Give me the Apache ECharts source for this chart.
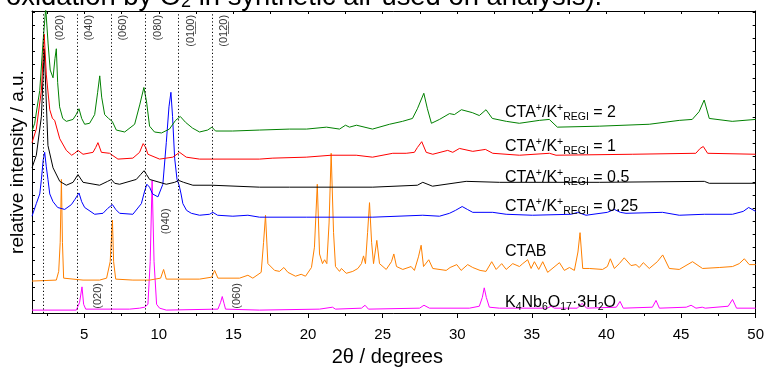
<!DOCTYPE html>
<html><head><meta charset="utf-8">
<script src="https://cdn.jsdelivr.net/npm/echarts@6/dist/echarts.min.js"></script>
<style>html,body{margin:0;padding:0;background:#fff}#c{width:767px;height:372px}</style>
</head><body><div id="c"></div>
<script>
// 2theta (degrees), relative intensity (a.u., stacked offsets)
const ratio2 = [[1.50,188],[1.68,196],[2.02,230],[2.24,280],[2.42,315],[2.58,278],[2.72,251],[2.91,243],[3.04,263],[3.13,273],[3.22,238],[3.35,213],[3.56,201],[3.80,198],[4.25,200],[4.46,205],[4.65,211],[4.83,201],[5.03,195],[5.36,196],[5.70,205],[5.90,228],[6.04,245],[6.17,223],[6.37,205],[6.63,201],[6.88,198],[7.15,189],[7.71,187],[8.38,195],[8.72,215],[9.00,233],[9.18,218],[9.38,193],[9.71,187],[10.18,186],[10.71,190],[11.12,199],[11.44,203],[11.79,197],[12.26,191],[12.73,187],[13.27,189],[13.56,192],[13.80,188],[14.94,188],[16.75,189],[18.76,190],[19.90,190],[21.24,192],[22.11,190],[22.51,194],[22.78,192],[23.25,194],[24.32,190],[25.46,195],[26.33,198],[27.00,201],[27.33,211],[27.76,227],[28.00,211],[28.27,196],[28.81,200],[29.48,206],[29.81,205],[30.28,210],[31.01,207],[31.48,204],[31.93,210],[32.35,201],[33.29,198],[34.16,196],[35.50,199],[36.17,200],[36.71,192],[39.52,193],[42.87,195],[44.88,199],[45.75,200],[46.21,208],[46.55,220],[46.89,201],[48.43,198],[50.00,200]];
const ratio1 = [[1.50,176],[1.79,190],[2.13,230],[2.32,288],[2.46,246],[2.69,210],[2.87,201],[3.02,199],[3.36,180],[3.80,168],[4.16,163],[4.36,165],[4.58,168],[4.92,164],[5.59,166],[5.77,171],[5.92,176],[6.15,166],[6.70,165],[7.26,159],[8.26,160],[8.71,166],[8.95,175],[9.12,171],[9.27,164],[10.05,159],[10.94,161],[11.39,166],[11.84,161],[12.73,159],[16.75,159],[17.64,160],[19.88,161],[21.55,163],[23.23,163],[24.32,161],[25.68,165],[26.58,165],[27.13,166],[27.33,171],[27.62,177],[27.92,166],[28.36,164],[29.36,168],[29.70,166],[30.15,170],[31.04,167],[31.89,169],[32.38,165],[34.17,163],[36.18,165],[36.62,163],[41.73,164],[45.99,165],[46.28,170],[46.49,172],[46.78,165],[50.00,164]];
const ratio05 = [[1.50,150],[1.79,163],[2.13,203],[2.32,273],[2.57,173],[2.91,150],[3.36,136],[3.80,132],[4.25,135],[4.58,143],[4.92,135],[6.03,132],[6.57,136],[6.82,138],[7.04,134],[7.37,133],[8.49,138],[8.78,143],[9.01,147],[9.18,143],[9.38,138],[10.50,133],[11.06,135],[11.33,137],[11.66,135],[12.28,132],[13.56,132],[16.75,130],[18.76,130],[24.34,130],[27.33,132],[27.69,135],[28.34,131],[30.60,136],[32.83,135],[39.52,135],[46.56,136],[46.89,134],[50.00,134]];
const ratio025 = [[1.50,100],[1.79,113],[2.02,123],[2.13,138],[2.25,158],[2.35,166],[2.46,151],[2.57,138],[2.69,123],[2.91,115],[3.22,109],[3.69,107],[4.14,112],[4.36,117],[4.65,124],[4.83,115],[5.03,109],[5.32,106],[5.70,102],[6.26,103],[6.57,108],[6.89,112],[7.11,107],[7.37,103],[8.26,102],[8.83,113],[9.05,126],[9.20,133],[9.38,130],[9.58,123],[9.94,120],[10.27,133],[10.50,176],[10.68,213],[10.81,228],[10.92,203],[11.06,160],[11.22,138],[11.36,132],[11.49,123],[11.61,113],[11.86,106],[12.18,103],[12.73,101],[13.40,102],[13.62,104],[13.94,101],[14.96,100],[15.97,101],[16.75,99],[19.88,99],[24.34,99],[27.69,101],[28.81,100],[29.48,103],[29.88,106],[30.33,110],[30.68,107],[31.04,104],[32.38,104],[33.28,102],[35.04,101],[37.65,102],[38.07,104],[38.63,101],[40.06,104],[40.53,107],[40.93,104],[41.31,103],[43.76,104],[44.88,101],[46.56,102],[48.45,102],[49.17,105],[49.53,109],[50.00,105]];
const ctab = [[1.50,33],[3.13,34],[3.29,43],[3.39,73],[3.47,138],[3.54,73],[3.62,36],[4.92,34],[6.03,34],[6.50,36],[6.74,53],[6.89,96],[6.97,53],[7.11,35],[8.26,34],[9.38,34],[10.12,36],[10.32,45],[10.50,35],[12.73,35],[13.54,37],[13.74,44],[13.96,36],[15.41,36],[15.97,39],[16.30,36],[16.86,42],[17.02,73],[17.15,101],[17.31,51],[17.76,44],[18.09,43],[18.38,47],[18.65,42],[19.16,38],[19.54,40],[19.83,38],[20.23,47],[20.43,68],[20.62,133],[20.77,61],[20.97,51],[21.11,55],[21.26,51],[21.41,93],[21.55,165],[21.71,83],[21.84,48],[22.11,43],[22.24,46],[22.56,41],[23.00,43],[23.34,46],[23.58,51],[23.72,59],[23.85,51],[23.99,83],[24.12,114],[24.26,73],[24.39,51],[24.61,75],[24.79,51],[25.24,45],[25.59,53],[25.75,61],[25.93,48],[26.35,45],[26.91,48],[27.13,44],[27.40,58],[27.58,70],[27.74,48],[28.09,55],[28.36,46],[29.26,44],[29.52,47],[29.97,50],[30.26,44],[30.70,50],[31.04,47],[31.53,44],[31.93,43],[32.31,53],[32.61,45],[32.98,51],[33.28,45],[33.72,51],[34.17,48],[34.39,51],[34.72,55],[34.95,46],[35.17,53],[35.46,45],[35.73,53],[36.06,42],[36.85,52],[37.18,44],[37.52,47],[37.85,44],[38.09,63],[38.23,83],[38.41,46],[38.85,46],[39.74,45],[40.06,48],[40.26,56],[40.53,46],[40.86,51],[41.19,57],[41.65,49],[41.98,50],[42.20,47],[42.47,52],[42.87,46],[43.41,53],[43.77,60],[44.21,46],[44.88,45],[45.77,53],[46.44,46],[47.56,47],[48.45,48],[48.90,51],[49.24,56],[49.57,50],[50.00,50]];
const knb = [[1.50,3],[4.47,3],[4.69,11],[4.85,27],[4.96,9],[5.10,4],[8.04,4],[8.71,5],[9.05,6],[9.27,9],[9.42,53],[9.55,137],[9.68,53],[9.85,9],[10.05,5],[10.50,3],[13.96,4],[14.14,11],[14.25,17],[14.37,10],[14.47,4],[16.75,3],[20.77,4],[21.64,6],[21.84,4],[23.58,5],[23.82,8],[24.05,4],[27.47,5],[27.77,8],[28.14,5],[30.82,5],[31.48,7],[31.68,16],[31.81,26],[31.95,16],[32.15,6],[32.82,5],[36.04,5],[36.29,7],[36.51,5],[38.05,5],[38.37,10],[38.67,5],[40.66,6],[40.91,12],[41.13,5],[43.08,6],[43.32,13],[43.55,5],[45.35,6],[45.67,8],[46.00,5],[46.42,6],[46.62,5],[48.16,7],[48.45,14],[48.72,5],[50.00,5]];

const refLines = [2.27, 4.53, 6.80, 9.06, 11.33, 13.59];
const refLabels = [[3.36,308,'(020)'],[5.34,308,'(040)'],[7.62,308,'(060)'],[9.91,308,'(080)'],[12.13,308,'(01\u03320\u03320)'],[14.34,308,'(01\u03322\u03320)']];
const knbLabels = [[5.93,31,'(020)'],[10.49,108,'(040)'],[15.24,31,'(060)']];
const xMajor = [5,10,15,20,25,30,35,40,45,50];
const xMinor = [2.5,7.5,12.5,17.5,22.5,27.5,32.5,37.5,42.5,47.5];
const xTop = [2.5,5,7.5,10,12.5,15,17.5,20,22.5,25,27.5,30,32.5,35,37.5,40,42.5,45,47.5,50];

const FF = 'Liberation Sans, Arial, sans-serif';
const chart = echarts.init(document.getElementById('c'));
const lineS = (data, color) => ({type:'line', data, showSymbol:false, symbol:'none', lineStyle:{color, width:1}, itemStyle:{color}, silent:true, xAxisIndex:0, yAxisIndex:0, z:3});
const txt = (y, main) => ({
  type:'text', x:505, y, z:10,
  style:{
    text: main, fill:'#000', fontSize:16, fontFamily:FF, lineHeight:20,
    align:'left', verticalAlign:'middle', textAlign:'left', textVerticalAlign:'middle',
    rich:{
      n:{fontSize:16, fontFamily:FF, lineHeight:20, fill:'#000'},
      p:{fontSize:10.5, fontFamily:FF, verticalAlign:'top', lineHeight:20, fill:'#000'},
      s:{fontSize:10.5, fontFamily:FF, verticalAlign:'bottom', lineHeight:20, fill:'#000'}
    }
  }
});
const regi = v => '{n|CTA}{p|+}{n|/K}{p|+}{s|REGI}{n| = ' + v + '}';

chart.setOption({
  animation:false,
  backgroundColor:'#fff',
  grid:{left:32, right:10, top:11, bottom:49},
  xAxis:[
    {type:'value', min:1.5, max:50, position:'bottom',
     name:'2\u03b8 / degrees', nameLocation:'middle', nameGap:34,
     nameTextStyle:{fontSize:20, fontFamily:FF, color:'#000', padding:[0,13,0,0]},
     axisLine:{show:true, lineStyle:{color:'#000', width:1}},
     axisTick:{show:true, inside:false, length:5, customValues:xMajor, lineStyle:{color:'#000'}},
     axisLabel:{show:true, customValues:xMajor, fontSize:15, fontFamily:FF, color:'#000', margin:14},
     splitLine:{show:false}},
    {type:'value', min:1.5, max:50, position:'bottom',
     axisLine:{show:false},
     axisTick:{show:true, inside:false, length:3, customValues:xMinor, lineStyle:{color:'#000'}},
     axisLabel:{show:false}, splitLine:{show:false}},
    {type:'value', min:1.5, max:50, position:'top',
     axisLine:{show:true, lineStyle:{color:'#000', width:1}},
     axisTick:{show:true, inside:true, length:3, customValues:xTop, lineStyle:{color:'#000'}},
     axisLabel:{show:false}, splitLine:{show:false}}
  ],
  yAxis:[
    {type:'value', min:0, max:312, interval:13.5, position:'left',
     name:'relative intensity / a.u.', nameLocation:'middle', nameGap:5,
     nameTextStyle:{fontSize:19, fontFamily:FF, color:'#000'},
     axisLine:{show:true, lineStyle:{color:'#000', width:1}},
     axisTick:{show:true, inside:true, length:3, lineStyle:{color:'#000'}},
     axisLabel:{show:false}, splitLine:{show:false}},
    {type:'value', min:0, max:312, interval:13.5, position:'right',
     axisLine:{show:true, lineStyle:{color:'#000', width:1}},
     axisTick:{show:true, inside:true, length:3, lineStyle:{color:'#000'}},
     axisLabel:{show:false}, splitLine:{show:false}}
  ],
  series:[
    {type:'line', data:[], xAxisIndex:0, yAxisIndex:0, silent:true, z:2,
     markLine:{symbol:['none','none'], silent:true, label:{show:false},
       lineStyle:{type:[1.2,2.3], color:'#000', width:1},
       data: refLines.map(v => ({xAxis:v}))}},
    lineS(knb, '#ff00ff'),
    lineS(ctab, '#ff8000'),
    lineS(ratio025, '#0000ff'),
    lineS(ratio05, '#000000'),
    lineS(ratio1, '#ff0000'),
    lineS(ratio2, '#008000'),
    {type:'scatter', data: refLabels.concat(knbLabels), symbolSize:1, itemStyle:{color:'rgba(0,0,0,0)'}, silent:true, z:5,
     label:{show:true, position:'inside', formatter: p => p.data[2], rotate:90, align:'right', verticalAlign:'middle',
       fontSize:11, fontFamily:FF, color:'#000'}}
  ],
  graphic:[
    {type:'text', x:6, y:-3, z:10, style:{
      text:'oxidation by O{s|2} in synthetic air used on analysis).', fill:'#000',
      fontSize:27.4, fontFamily:FF, lineHeight:28,
      align:'left', verticalAlign:'middle', textAlign:'left', textVerticalAlign:'middle',
      rich:{s:{fontSize:18, fontFamily:FF, verticalAlign:'bottom', lineHeight:28, fill:'#000'}}}},
    txt(113, regi('2')),
    txt(147, regi('1')),
    txt(178, regi('0.5')),
    txt(206.5, regi('0.25')),
    txt(252, '{n|CTAB}'),
    txt(303, '{n|K}{s|4}{n|Nb}{s|6}{n|O}{s|17}{n|\u00b73H}{s|2}{n|O}')
  ]
});
</script></body></html>
